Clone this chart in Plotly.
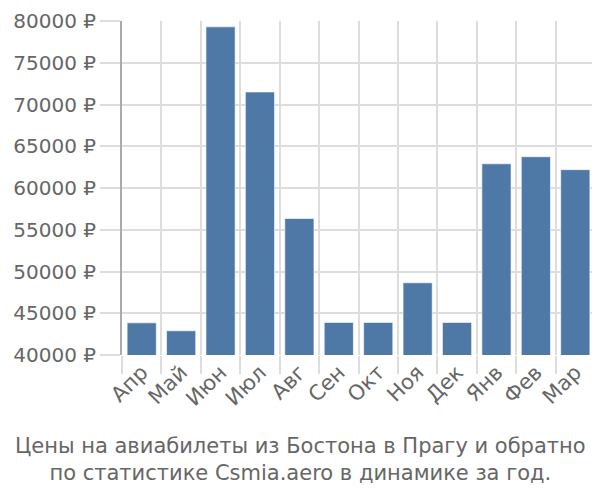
import plotly.graph_objects as go

months = ["Апр", "Май", "Июн", "Июл", "Авг", "Сен", "Окт", "Ноя", "Дек", "Янв", "Фев", "Мар"]
prices = [43850, 42900, 79300, 71500, 56350, 43900, 43900, 48650, 43900, 62900, 63750, 62200]
y_ticks = [40000, 45000, 50000, 55000, 60000, 65000, 70000, 75000, 80000]
y_tick_labels = [f"{v} ₽" for v in y_ticks]
title_lines = ["Цены на авиабилеты из Бостона в Прагу и обратно",
               "по статистике Csmia.aero в динамике за год."]

FONT = "DejaVu Sans, Liberation Sans, Arial, sans-serif"

fig = go.Figure(go.Bar(
    x=months, y=prices,
    marker=dict(color="#4e79a7", line=dict(color="rgba(255,255,255,0.6)", width=1)),
))

fig.update_layout(
    width=592, height=492,
    margin=dict(l=114, r=5, t=13, b=145),
    paper_bgcolor="white", plot_bgcolor="white",
    bargap=0.26,
    font=dict(family=FONT, color="#666666", size=20),
    showlegend=False,
    annotations=[dict(
        text="<br>".join(title_lines), x=(292 - 114) / 473, xref="paper", y=0, yref="paper",
        xanchor="center", yanchor="middle", yshift=-104, showarrow=False,
        font=dict(size=21, color="#666666", family=FONT), align="center",
    )],
)
fig.update_xaxes(
    type="category", tickson="boundaries", tickangle=-45, automargin=False,
    showgrid=True, gridcolor="#dddddd", gridwidth=2,
    ticks="outside", ticklen=18, tickcolor="#dddddd", tickwidth=2,
    showline=False, tickfont=dict(size=21, color="#666666", family=FONT),
)
fig.update_yaxes(
    range=[40000, 80000], tickvals=y_ticks, ticktext=y_tick_labels,
    showgrid=True, gridcolor="#dddddd", gridwidth=2, automargin=False,
    ticks="outside", ticklen=20, tickcolor="#dddddd", tickwidth=2,
    showline=True, linecolor="#aaaaaa", linewidth=2,
    zeroline=False, ticklabeloverflow="allow",
    tickfont=dict(size=20, color="#666666", family=FONT),
)

fig.write_html("out.html")
